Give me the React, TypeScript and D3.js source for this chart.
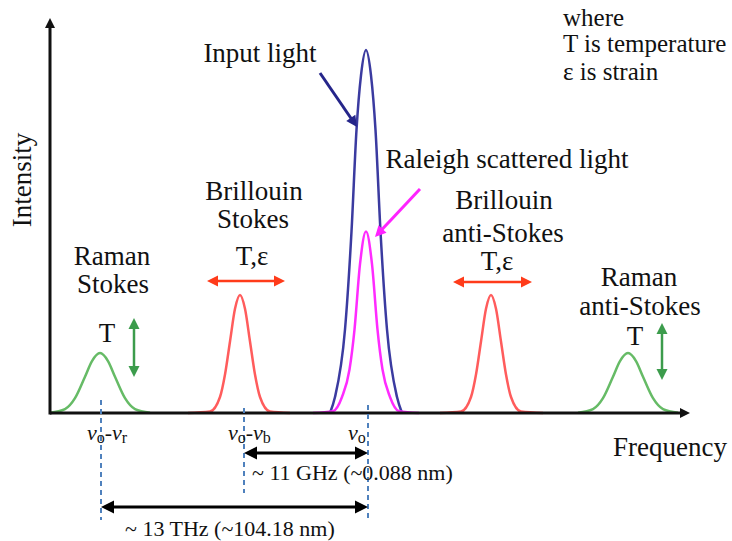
import React from 'react';
import * as d3 from 'd3';

const W = 732;
const H = 541;

// peak profiles: [frequency (a.u.), intensity (% of input light)]
const ramanStokes: [number, number][] = [
  [0, 0.1], [3, 1.1], [5, 4.1], [7, 10.0], [8.4, 14.3], [10, 16.5],
  [11.6, 14.3], [13, 10.0], [15, 4.1], [17, 1.1], [20, 0.1],
];
const brillouinStokes: [number, number][] = [
  [27.6, 0], [32, 0.4], [34, 4.4], [35, 10.6], [36, 19.7], [37, 28.7], [38, 32.5],
  [39, 28.7], [40, 19.7], [41, 10.6], [42, 4.4], [44, 0.4], [48, 0],
];
const rayleigh: [number, number][] = [
  [52.6, 0], [56.6, 0.5], [58.4, 4.4], [59.9, 12], [60.9, 23], [62, 41], [63.2, 50],
  [64.4, 41], [65.5, 23], [66.5, 12], [68, 4.4], [69.8, 0.5], [73.8, 0],
];
const inputLight: [number, number][] = [
  [56, 0], [57, 4.4], [59, 23], [60.3, 50], [61.3, 78], [62.2, 93], [63.2, 100],
  [64.2, 93], [65.1, 78], [66.1, 50], [67.4, 23], [69.4, 4.4], [70.4, 0],
];
const brillouinAntiStokes: [number, number][] = [
  [78, 0], [82.2, 0.4], [84.2, 4.4], [85.2, 10.6], [86.2, 19.7], [87.2, 28.7], [88.2, 32.5],
  [89.2, 28.7], [90.2, 19.7], [91.2, 10.6], [92.2, 4.4], [94.2, 0.4], [98.6, 0],
];
const ramanAntiStokes: [number, number][] = [
  [105.6, 0.1], [108.6, 1.1], [110.6, 4.1], [112.6, 10.0], [114, 14.3], [115.6, 16.5],
  [117.2, 14.3], [118.6, 10.0], [120.6, 4.1], [122.6, 1.1], [125.6, 0.1],
];

// marked frequencies: v0 - vr, v0 - vb, v0
const markFreqs = [10.2, 38.8, 63.6];

const FONT = "'Liberation Serif', 'Times New Roman', serif";

const x = d3.scaleLinear().domain([0, 128]).range([50, 690]);
const y = d3.scaleLinear().domain([0, 100]).range([413, 50]);

const line = d3.line<[number, number]>()
  .x(d => x(d[0]))
  .y(d => y(d[1]))
  .curve(d3.curveMonotoneX);

type ArrowProps = {
  x1: number; y1: number; x2: number; y2: number;
  color: string; width?: number; head?: number; both?: boolean;
};

const Arrow = ({ x1, y1, x2, y2, color, width = 2.5, head = 11, both = false }: ArrowProps) => {
  const len = Math.hypot(x2 - x1, y2 - y1);
  const ux = (x2 - x1) / len, uy = (y2 - y1) / len;
  const nx = -uy, ny = ux;
  const hw = head * 0.5;
  const tri = (tx: number, ty: number, dx: number, dy: number) => {
    const bx = tx - dx * head, by = ty - dy * head;
    return `${tx},${ty} ${bx + nx * hw},${by + ny * hw} ${bx - nx * hw},${by - ny * hw}`;
  };
  const sx = both ? x1 + ux * head * 0.8 : x1;
  const sy = both ? y1 + uy * head * 0.8 : y1;
  return (
    <g>
      <line x1={sx} y1={sy} x2={x2 - ux * head * 0.8} y2={y2 - uy * head * 0.8} stroke={color} strokeWidth={width} />
      <polygon points={tri(x2, y2, ux, uy)} fill={color} />
      {both && <polygon points={tri(x1, y1, -ux, -uy)} fill={color} />}
    </g>
  );
};

const Nu = ({ x0, yb, sub2 }: { x0: number; yb: number; sub2?: string }) => (
  <text x={x0} y={yb} fontFamily={FONT} fontSize={22} fill="#111">
    <tspan fontStyle="italic">ν</tspan>
    <tspan fontSize={16} dy={3}>o</tspan>
    {sub2 && (
      <>
        <tspan dy={-3}>-</tspan>
        <tspan fontStyle="italic">ν</tspan>
        <tspan fontSize={16} dy={3}>{sub2}</tspan>
      </>
    )}
  </text>
);

export default function App() {
  const big = { fontFamily: FONT, fontSize: 27, fill: '#111', textAnchor: 'middle' as const };
  const [mR, mB, m0] = markFreqs.map(f => x(f));

  return (
    <svg width={W} height={H} style={{ position: 'absolute', left: 0, top: 0, background: '#fff' }}>
      {/* peaks */}
      <path d={line(ramanStokes) || ''} fill="none" stroke="#66bb66" strokeWidth={2.5} />
      <path d={line(ramanAntiStokes) || ''} fill="none" stroke="#66bb66" strokeWidth={2.5} />
      <path d={line(brillouinStokes) || ''} fill="none" stroke="#ff5c5c" strokeWidth={2.5} />
      <path d={line(brillouinAntiStokes) || ''} fill="none" stroke="#ff5c5c" strokeWidth={2.5} />
      <path d={line(inputLight) || ''} fill="none" stroke="#3b3ba0" strokeWidth={2.5} />
      <path d={line(rayleigh) || ''} fill="none" stroke="#ff2bff" strokeWidth={2.5} />

      {/* axes */}
      <Arrow x1={x(0)} y1={y(0)} x2={x(128)} y2={y(0)} color="#111" width={3} head={10} />
      <Arrow x1={x(0)} y1={y(0) + 1.5} x2={x(0)} y2={y(108.8)} color="#111" width={3} head={10} />

      {/* marked frequencies */}
      <line x1={mR} x2={mR} y1={400} y2={520} stroke="#4f81bd" strokeWidth={2} strokeDasharray="5,4" />
      <line x1={mB} x2={mB} y1={408} y2={493} stroke="#4f81bd" strokeWidth={2} strokeDasharray="5,4" />
      <line x1={m0} x2={m0} y1={405} y2={520} stroke="#4f81bd" strokeWidth={2} strokeDasharray="5,4" />

      <Nu x0={87} yb={440} sub2="r" />
      <Nu x0={228} yb={440} sub2="b" />
      <Nu x0={348} yb={440} />

      <Arrow x1={mB} y1={453} x2={m0} y2={453} color="#000" width={3} head={13} both />
      <Arrow x1={mR} y1={507} x2={m0} y2={507} color="#000" width={3} head={13} both />
      <text x={252} y={480} fontFamily={FONT} fontSize={22} fill="#111">~ 11 GHz (~0.088 nm)</text>
      <text x={125} y={536} fontFamily={FONT} fontSize={22} fill="#111">~ 13 THz (~104.18 nm)</text>

      {/* labels */}
      <text {...big} x={260} y={62}>Input light</text>
      <Arrow x1={320} y1={73} x2={357} y2={127} color="#25258a" width={3} head={11} />
      <text {...big} x={507} y={168}>Raleigh scattered light</text>
      <Arrow x1={420} y1={189} x2={375} y2={237} color="#ff22ff" width={3} head={11} />

      <text {...big} x={112} y={265}>Raman</text>
      <text {...big} x={113} y={293}>Stokes</text>
      <text {...big} x={107} y={342}>T</text>
      <Arrow x1={134} y1={318} x2={134} y2={377} color="#3c9c4c" width={2.5} head={11} both />

      <text {...big} x={254} y={200}>Brillouin</text>
      <text {...big} x={253} y={228}>Stokes</text>
      <text {...big} x={252} y={265}>T,ε</text>
      <Arrow x1={207} y1={281} x2={285} y2={281} color="#ff3b1a" width={2.5} head={11} both />

      <text {...big} x={504} y={209}>Brillouin</text>
      <text {...big} x={503} y={242}>anti-Stokes</text>
      <text {...big} x={497} y={270}>T,ε</text>
      <Arrow x1={453} y1={282} x2={532} y2={282} color="#ff3b1a" width={2.5} head={11} both />

      <text {...big} x={639} y={286}>Raman</text>
      <text {...big} x={640} y={315}>anti-Stokes</text>
      <text {...big} x={635} y={345}>T</text>
      <Arrow x1={662} y1={323} x2={662} y2={380} color="#3c9c4c" width={2.5} head={11} both />

      <text {...big} textAnchor="start" x={613} y={456}>Frequency</text>
      <text {...big} transform="translate(31,180) rotate(-90)">Intensity</text>

      <g fontFamily={FONT} fontSize={25} fill="#111">
        <text x={563} y={26}>where</text>
        <text x={563} y={52}>T is temperature</text>
        <text x={563} y={80}>ε is strain</text>
      </g>
    </svg>
  );
}
